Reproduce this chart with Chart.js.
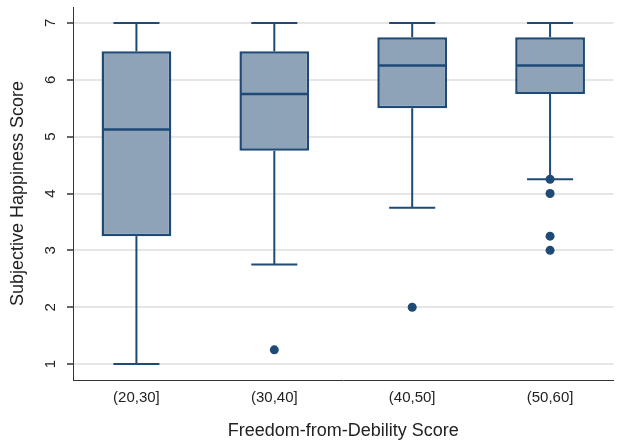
<!DOCTYPE html>
<html>
<head>
<meta charset="utf-8">
<script src="https://cdn.jsdelivr.net/npm/chart.js@4"></script>
<style>
  html, body { margin: 0; padding: 0; background: #fff; }
  #wrap { width: 618px; height: 440px; }
</style>
</head>
<body>
<div id="wrap"><canvas id="chart"></canvas></div>
<script>
const CATEGORIES = ['(20,30]', '(30,40]', '(40,50]', '(50,60]'];
const LOWER   = [1, 2.75, 3.75, 4.25];
const Q1      = [3.25, 4.75, 5.5, 5.75];
const MEDIAN  = [5.125, 5.75, 6.25, 6.25];
const Q3      = [6.5, 6.5, 6.75, 6.75];
const UPPER   = [7, 7, 7, 7];
const OUTLIERS = [[], [1.25], [2], [4.25, 4, 3.25, 3]];
const Y_TICKS = [1, 2, 3, 4, 5, 6, 7];

const NAVY = '#1e4a75';
const FILL = '#8ea3b8';
const TEXT = '#222';
const FONT = "'Liberation Sans', Arial, Helvetica, sans-serif";

const boxes = CATEGORIES.map((c, i) => ({ x: i + 1, y: [Q1[i], Q3[i]] }));
const points = [];
OUTLIERS.forEach((vals, i) => vals.forEach(v => points.push({ x: i + 1, y: v })));

// whiskers, caps and median lines, drawn right after the boxes
const boxExtras = {
  id: 'boxExtras',
  afterDatasetDraw(chart, args) {
    if (args.index !== 0) return;
    const { ctx, scales: { y } } = chart;
    ctx.save();
    ctx.strokeStyle = NAVY;
    const line = (x1, y1, x2, y2) => {
      ctx.beginPath(); ctx.moveTo(x1, y1); ctx.lineTo(x2, y2); ctx.stroke();
    };
    args.meta.data.forEach((bar, i) => {
      const cx = bar.x;
      const half = bar.width / 2;
      const cap = bar.width * 0.33;
      ctx.lineWidth = 2;
      line(cx, y.getPixelForValue(Q3[i]), cx, y.getPixelForValue(UPPER[i]));
      line(cx, y.getPixelForValue(Q1[i]), cx, y.getPixelForValue(LOWER[i]));
      line(cx - cap, y.getPixelForValue(UPPER[i]), cx + cap, y.getPixelForValue(UPPER[i]));
      line(cx - cap, y.getPixelForValue(LOWER[i]), cx + cap, y.getPixelForValue(LOWER[i]));
      ctx.lineWidth = 2.5;
      line(cx - half + 1, y.getPixelForValue(MEDIAN[i]), cx + half - 1, y.getPixelForValue(MEDIAN[i]));
    });
    ctx.restore();
  }
};

new Chart(document.getElementById('chart'), {
  type: 'bar',
  data: {
    datasets: [
      {
        type: 'bar',
        order: 1,
        data: boxes,
        backgroundColor: FILL,
        borderColor: NAVY,
        borderWidth: 2.5,
        borderSkipped: false,
        categoryPercentage: 1,
        barPercentage: 0.506,
      },
      {
        type: 'scatter',
        order: 0,
        data: points,
        backgroundColor: NAVY,
        borderWidth: 0,
        pointRadius: 4.5,
      },
    ],
  },
  options: {
    responsive: true,
    maintainAspectRatio: false,
    animation: false,
    layout: { padding: { left: 0, right: 2, top: 7, bottom: 0 } },
    plugins: { legend: { display: false }, tooltip: { enabled: false } },
    scales: {
      x: {
        type: 'linear',
        offset: false,
        min: 0.54,
        max: 4.46,
        afterBuildTicks: s => { s.ticks = CATEGORIES.map((c, i) => ({ value: i + 1 })); },
        afterFit: s => { s.height = 60; s.paddingLeft = 0; s.paddingRight = 0; },
        grid: { display: false, drawTicks: false, offset: false },
        border: { color: '#333', width: 1 },
        ticks: {
          callback: v => CATEGORIES[v - 1],
          color: TEXT,
          font: { family: FONT, size: 15 },
          padding: 9,
          maxRotation: 0,
        },
        title: {
          display: true,
          text: 'Freedom-from-Debility Score',
          color: TEXT,
          font: { family: FONT, size: 18, lineHeight: 1 },
          padding: 0,
        },
      },
      y: {
        min: 0.72,
        max: 7.28,
        afterBuildTicks: s => { s.ticks = Y_TICKS.map(v => ({ value: v })); },
        afterFit: s => { s.width = 73; s.paddingTop = 0; s.paddingBottom = 0; },
        grid: { color: '#e6e6e6', lineWidth: 2, tickColor: '#333', tickLength: 6, tickWidth: 1.5 },
        border: { color: '#333', width: 1 },
        ticks: {
          color: TEXT,
          font: { family: FONT, size: 15 },
          minRotation: 90,
          maxRotation: 90,
          crossAlign: 'center',
          padding: 12,
        },
        title: {
          display: true,
          text: 'Subjective Happiness Score',
          color: TEXT,
          font: { family: FONT, size: 18, lineHeight: 1 },
          padding: { top: 9, bottom: 9 },
        },
      },
    },
  },
  plugins: [boxExtras],
});
</script>
</body>
</html>
